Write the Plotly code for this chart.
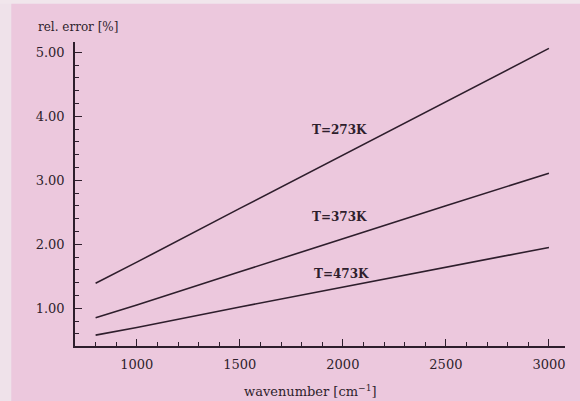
import plotly.graph_objects as go

# Relative error of the absorption estimate vs. wavenumber at three temperatures
wavenumber = [800, 1000, 1500, 2000, 2500, 3000]
err_273K = [1.39, 1.72, 2.56, 3.39, 4.23, 5.06]
err_373K = [0.85, 1.05, 1.57, 2.09, 2.60, 3.11]
err_473K = [0.58, 0.70, 1.02, 1.33, 1.64, 1.95]

series = [("T=273K", err_273K, 1985, 3.78),
          ("T=373K", err_373K, 1985, 2.42),
          ("T=473K", err_473K, 1995, 1.53)]

x_ticks = [1000, 1500, 2000, 2500, 3000]
y_ticks = [1.0, 2.0, 3.0, 4.0, 5.0]
y_tick_text = ["1.00", "2.00", "3.00", "4.00", "5.00"]

ink = "#2e1e2c"
paper = "#ecc8dd"
serif = "DejaVu Serif"

fig = go.Figure()
for name, vals, lx, ly in series:
    fig.add_trace(go.Scatter(x=wavenumber, y=vals, mode="lines", name=name,
                             line=dict(color=ink, width=1.6), showlegend=False))
    fig.add_annotation(x=lx, y=ly, text=name, showarrow=False,
                       font=dict(family=serif, size=12, color=ink, weight=600))

axis_common = dict(showgrid=False, zeroline=False, showline=True, linecolor=ink,
                   linewidth=1.6, ticks="inside", ticklen=7, tickwidth=1.4,
                   tickcolor=ink, tickfont=dict(family=serif, size=13, color=ink))

fig.update_xaxes(range=[700, 3078], tickvals=x_ticks,
                 minor=dict(dtick=100, tick0=0, ticks="inside", ticklen=4,
                            tickwidth=1.2, tickcolor=ink),
                 ticklabelstandoff=6, **axis_common)
fig.update_yaxes(range=[0.41, 5.16], tickvals=y_ticks, ticktext=y_tick_text,
                 minor=dict(dtick=0.2, tick0=0, ticks="inside", ticklen=4,
                            tickwidth=1.2, tickcolor=ink),
                 ticklabelstandoff=6, **axis_common)

# Axis titles
fig.add_annotation(xref="paper", yref="paper", x=-0.08, y=1.02, xanchor="left",
                   yanchor="bottom", text="rel. error [%]", showarrow=False,
                   font=dict(family=serif, size=12, color=ink))
fig.add_annotation(xref="paper", yref="paper", x=0.48, y=-0.115, xanchor="center",
                   yanchor="top", text="wavenumber [cm<sup>\u22121</sup>]",
                   showarrow=False, font=dict(family=serif, size=13, color=ink))

# Lighter page edges
fig.add_shape(type="rect", xref="paper", yref="paper", x0=-0.2, x1=-0.13,
              y0=-0.3, y1=1.2, fillcolor="#efe2ea", line_width=0, layer="below")
fig.add_shape(type="rect", xref="paper", yref="paper", x0=-0.2, x1=1.1,
              y0=1.126, y1=1.2, fillcolor="#f1e6ec", line_width=0, layer="below")

fig.update_layout(width=580, height=401, margin=dict(l=75, r=15, t=42, b=55),
                  paper_bgcolor=paper, plot_bgcolor=paper)

fig.write_html("out.html")
